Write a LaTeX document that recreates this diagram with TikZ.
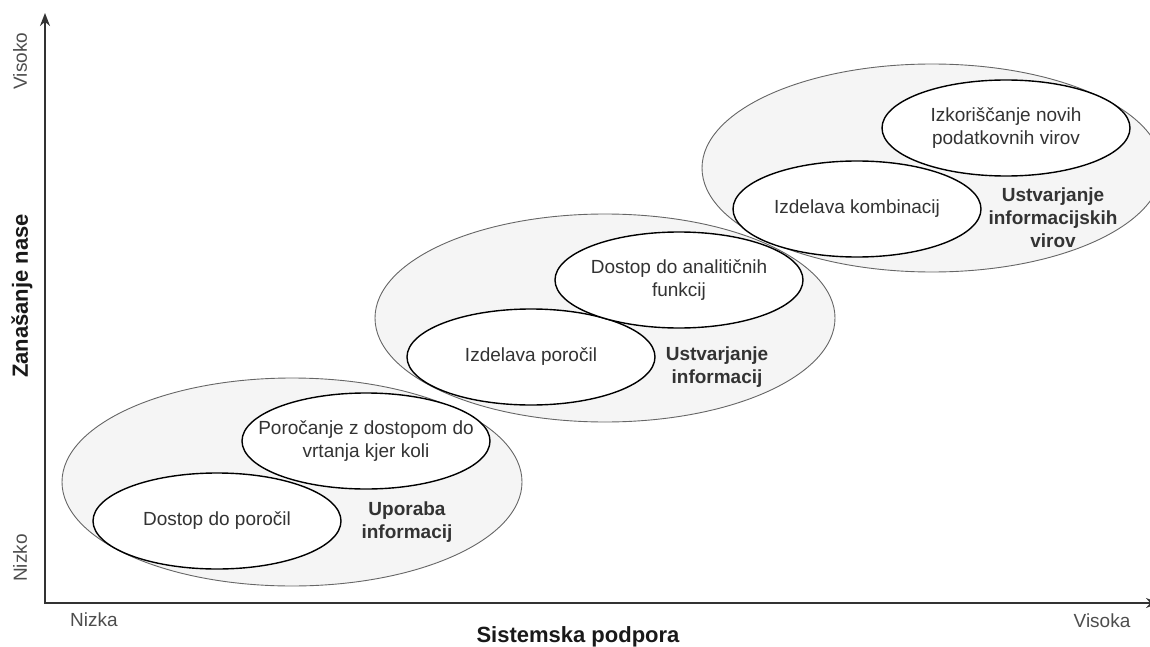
\documentclass[tikz,border=0pt]{standalone}
\usepackage{fontspec}
\setmainfont{Liberation Sans}
\usetikzlibrary{shapes.geometric,arrows.meta}
\definecolor{biggray}{HTML}{F5F5F5}
\definecolor{edgegray}{HTML}{666666}
\definecolor{txt}{HTML}{333333}
\definecolor{endtxt}{HTML}{4D4D4D}
\definecolor{axiscol}{HTML}{333333}
\begin{document}
\begin{tikzpicture}[x=1pt,y=-1pt,
  bigell/.style={ellipse,draw=edgegray,fill=biggray,line width=0.9pt,minimum width=460pt,minimum height=208pt,inner sep=0pt},
  smallell/.style={ellipse,draw=black,fill=white,line width=1.4pt,minimum width=248pt,minimum height=96pt,inner sep=0pt},
  etext/.style={text=txt,font=\fontsize{19}{23}\selectfont,align=center,inner sep=0pt},
  btext/.style={text=txt,font=\fontsize{19}{23}\selectfont\bfseries,align=center,inner sep=0pt},
  endlabel/.style={text=endtxt,font=\fontsize{19}{23}\selectfont,inner sep=0pt},
  axtitle/.style={text=black!90,font=\fontsize{22}{26}\selectfont\bfseries,inner sep=0pt},
  axisline/.style={draw=axiscol,line width=2pt,{Stealth[length=13pt,width=10pt]}-{Stealth[length=13pt,width=10pt]}}
]
\useasboundingbox (0,0) rectangle (1150,647);

% axes
\coordinate (ytop) at (45,13);
\coordinate (origin) at (45,603);
\coordinate (xend) at (1159,603);
\draw[axisline] (ytop) -- (origin) -- (xend);

% group 1
\node[bigell] (g1) at (292,482) {};
\node[smallell] (s1) at (217,521) {};
\node[smallell] (s2) at (366,441) {};
% group 2
\node[bigell] (g2) at (605,318) {};
\node[smallell] (s3) at (531,357) {};
\node[smallell] (s4) at (679,280) {};
% group 3
\node[bigell] (g3) at (932,168) {};
\node[smallell] (s5) at (857,209) {};
\node[smallell] (s6) at (1006,128) {};

% texts
\node[etext] (t1) at (s1.center) {Dostop do poročil};
\node[etext] (t2) at (s2.center) {Poročanje z dostopom do\\vrtanja kjer koli};
\node[etext] (t3) at (s3.center) {Izdelava poročil};
\node[etext] (t4) at (s4.center) {Dostop do analitičnih\\funkcij};
\node[etext] (t5) at (s5.center) {Izdelava kombinacij};
\node[etext] (t6) at (s6.center) {Izkoriščanje novih\\podatkovnih virov};

\node[btext] (b1) at (407,522) {Uporaba\\informacij};
\node[btext] (b2) at (717,367) {Ustvarjanje\\informacij};
\node[btext] (b3) at (1053,218) {Ustvarjanje\\informacijskih\\virov};

% axis labels
\node[endlabel,rotate=90] (visoko) at (20,61) {Visoko};
\node[endlabel,rotate=90] (nizko) at (20,558) {Nizko};
\node[axtitle,rotate=90] (ytitle) at (22,296) {Zanašanje nase};
\node[endlabel] (nizka) at (94,620) {Nizka};
\node[endlabel] (visoka) at (1102,621) {Visoka};
\node[axtitle] (xtitle) at (578,637) {Sistemska podpora};
\end{tikzpicture}
\end{document}
